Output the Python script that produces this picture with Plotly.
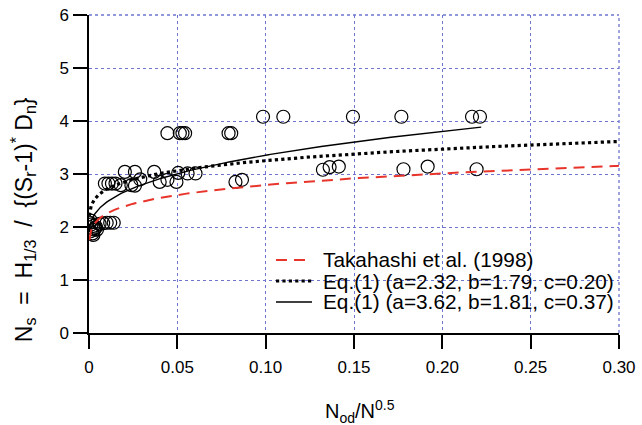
import numpy as np
import plotly.graph_objects as go

obs_x = [0.0444, 0.0514, 0.0529, 0.0544, 0.0790, 0.0805,
         0.0985, 0.1100, 0.1494, 0.1768, 0.2168, 0.2213,
         0.0203, 0.0260, 0.0369, 0.0090, 0.0110, 0.0130, 0.0150,
         0.0180, 0.0240, 0.0260, 0.0290, 0.0400, 0.0444, 0.0495,
         0.0505, 0.0558, 0.0603, 0.0829, 0.0866,
         0.1324, 0.1362, 0.1414, 0.1780, 0.1917, 0.2194,
         0.0060, 0.0080, 0.0100, 0.0120, 0.0140,
         0.0005, 0.0015, 0.0025, 0.0035, 0.0045,
         0.0010, 0.0020, 0.0030, 0.0040, 0.0010, 0.0025]
obs_y = [3.77, 3.77, 3.77, 3.77, 3.77, 3.77,
         4.08, 4.08, 4.08, 4.08, 4.08, 4.08,
         3.04, 3.04, 3.04, 2.82, 2.82, 2.82, 2.82,
         2.79, 2.79, 2.78, 2.90, 2.85, 2.89, 2.85,
         3.02, 3.01, 3.01, 2.85, 2.89,
         3.08, 3.13, 3.14, 3.09, 3.14, 3.09,
         2.06, 2.07, 2.08, 2.08, 2.08,
         2.08, 2.05, 2.02, 1.98, 1.95,
         1.92, 1.88, 1.95, 2.00, 2.12, 1.85]

# Curve parameters Ns = a * x^c + b
curve_names = ["Takahashi et al. (1998)",
               "Eq.(1) (a=2.32, b=1.79, c=0.20)",
               "Eq.(1) (a=3.62, b=1.81, c=0.37)"]
curve_a = [2.32, 2.32, 3.62]
curve_b = [1.33, 1.79, 1.81]
curve_c = [0.20, 0.20, 0.37]
curve_xmax = [0.30, 0.30, 0.222]

x_ticks = [0, 0.05, 0.10, 0.15, 0.20, 0.25, 0.30]
x_ticklabels = ["0", "0.05", "0.10", "0.15", "0.20", "0.25", "0.30"]
y_ticks = [0, 1, 2, 3, 4, 5, 6]

FONT = "Liberation Sans, Arial, sans-serif"
GRID_COLOR = "#6d75d0"
NB = "\u00a0"
styles = [dict(color="#e8352b", width=2, dash="11px,7px"),
          dict(color="black", width=3.2, dash="dot"),
          dict(color="black", width=1.4, dash="solid")]

fig = go.Figure()
fig.add_trace(go.Scatter(x=obs_x, y=obs_y, mode="markers", showlegend=False,
                         marker=dict(symbol="circle-open", size=13,
                                     color="black", line=dict(width=1.2))))
for name, a, b, c, xm, st in zip(curve_names, curve_a, curve_b, curve_c,
                                 curve_xmax, styles):
    xs = np.concatenate([np.linspace(0.0002, 0.01, 60), np.linspace(0.01, xm, 200)])
    ys = a * xs ** c + b
    fig.add_trace(go.Scatter(x=xs, y=ys, mode="lines", name=name, line=st,
                             showlegend=False))

axis_style = dict(showgrid=True, gridcolor=GRID_COLOR, griddash="dot", gridwidth=1.3,
                  zeroline=False, showline=True, linecolor="black", linewidth=1.5,
                  ticks="outside", ticklen=14, tickwidth=1.5, tickcolor="black",
                  automargin=False,
                  tickfont=dict(family=FONT, size=17, color="black"))

fig.update_xaxes(range=[0, 0.30], tickvals=x_ticks, ticktext=x_ticklabels,
                 ticklabelstandoff=4, **axis_style)
fig.update_yaxes(range=[0, 6], tickvals=y_ticks, ticklabelstandoff=1, **axis_style)

# grid lines on the far edges (x = 0.30, y = 6)
fig.add_shape(type="line", xref="paper", yref="paper", x0=1, x1=1, y0=0, y1=1,
              line=dict(color=GRID_COLOR, width=1.3, dash="dot"), layer="below")
fig.add_shape(type="line", xref="paper", yref="paper", x0=0, x1=1, y0=1, y1=1,
              line=dict(color=GRID_COLOR, width=1.3, dash="dot"), layer="below")

# manual legend
leg_y = [0.2296, 0.1635, 0.0975]
for name, st, ly in zip(curve_names, styles, leg_y):
    fig.add_shape(type="line", xref="paper", yref="paper", x0=0.3528, x1=0.4208,
                  y0=ly, y1=ly, line=st)
    fig.add_annotation(text=name, xref="paper", yref="paper", x=0.4396, y=ly,
                       xanchor="left", yanchor="middle", showarrow=False,
                       borderpad=0,
                       font=dict(family=FONT, size=20.8, color="black"))

fig.add_annotation(text="N<sub>od</sub>/N<sup>0.5</sup>", xref="paper", yref="paper",
                   x=0.511, y=-0.246, yanchor="middle", showarrow=False,
                   font=dict(family=FONT, size=20, color="black"))
ytitle = ("N<sub>s</sub>" + NB * 2 + "=" + NB * 2 + "H<sub>1/3</sub>" + NB * 2 + "/"
          + NB * 2 + "{(S<sub>r</sub>-1)<sup>*</sup>" + NB + "D<sub>n</sub>}")
fig.add_annotation(text=ytitle,
                   xref="paper", yref="paper", x=-0.1245, y=0.355, textangle=-90,
                   xanchor="center", yanchor="middle", showarrow=False,
                   font=dict(family=FONT, size=23, color="black"))

fig.update_layout(width=642, height=425, margin=dict(l=89, r=23, t=15, b=92),
                  plot_bgcolor="white", paper_bgcolor="white", showlegend=False)

fig.write_html("out.html", config={"displayModeBar": False},
               post_script="document.body.style.margin='0';document.body.style.overflow='hidden';")
